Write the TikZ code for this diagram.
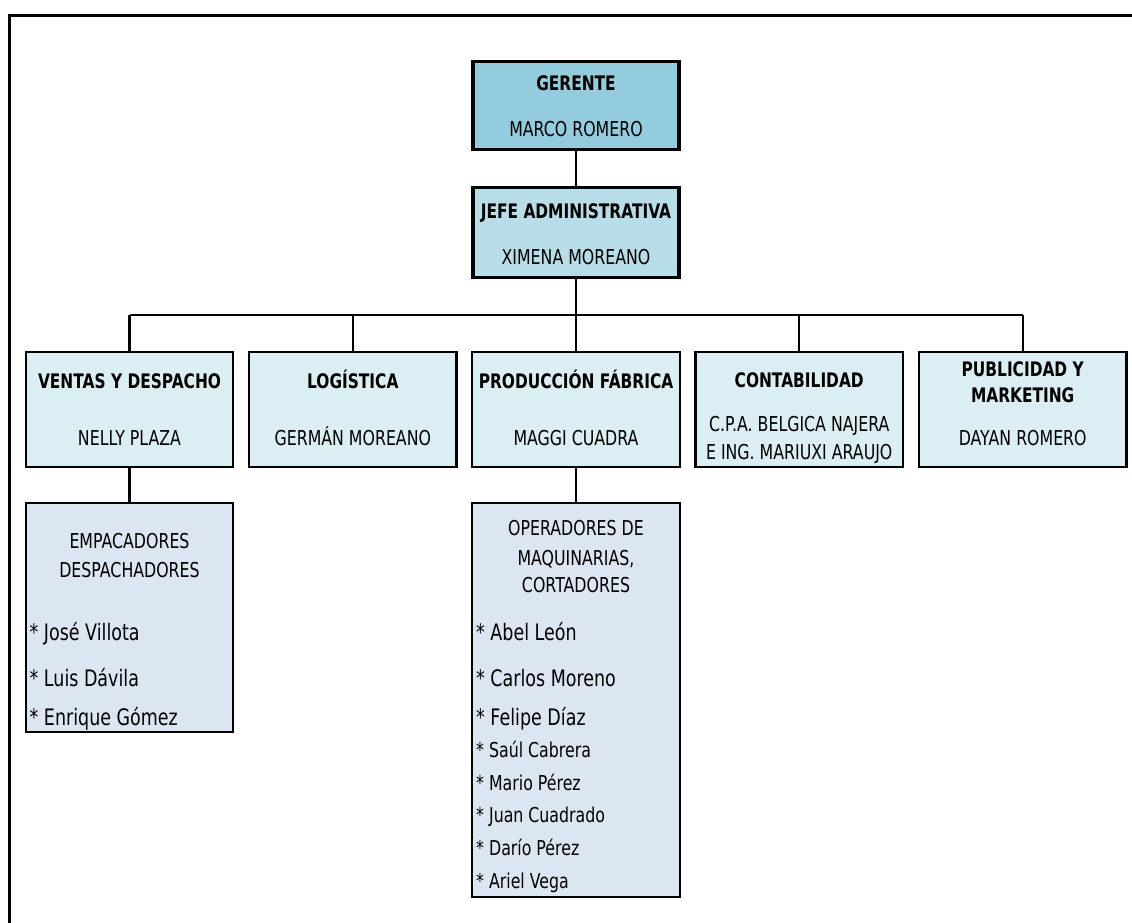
\documentclass[tikz,border=0pt]{standalone}
\usepackage{fontspec}
\setmainfont[FakeStretch=0.77]{DejaVu Sans}
\definecolor{cTop}{HTML}{93CDDD}
\definecolor{cJefe}{HTML}{B7DEE8}
\definecolor{cDept}{HTML}{DAEEF3}
\definecolor{cStaff}{HTML}{DCE6F2}
\begin{document}
\begin{tikzpicture}[x=1pt,y=-1pt,
  boxbase/.style={draw=black, rectangle, inner sep=0pt, outer sep=0pt},
  topbox/.style={boxbase, line width=3.2pt, minimum width=206pt},
  deptbox/.style={boxbase, fill=cDept, line width=2.2pt, minimum width=207.5pt, minimum height=115pt},
  staffbox/.style={boxbase, fill=cStaff, line width=2.2pt, minimum width=207.5pt},
  conn/.style={draw=black, line width=2.3pt},
  hd/.style={inner sep=0pt, anchor=base, font=\fontsize{20}{24}\selectfont\bfseries},
  nm/.style={inner sep=0pt, anchor=base, font=\fontsize{20.5}{24}\selectfont},
  big/.style={inner sep=0pt, anchor=base west, font=\fontsize{22.7}{26}\selectfont},
  small/.style={inner sep=0pt, anchor=base west, font=\fontsize{20.5}{24}\selectfont}]
\useasboundingbox (0,0) rectangle (1132,923);
\fill[white] (0,0) rectangle (1132,923);
% outer frame
\draw[line width=3pt] (9,925) -- (9,15.5) -- (1134,15.5);

% top boxes
\node[topbox, fill=cTop, minimum height=87.6pt] (ger) at (576,105.5) {};
\node[topbox, fill=cJefe, minimum height=90pt] (jefe) at (576,232.3) {};

% department boxes
\node[deptbox] (ven) at (129.5,409.5) {};
\node[deptbox] (log) at (352.8,409.5) {};
\node[deptbox] (pro) at (576,409.5) {};
\node[deptbox] (con) at (799.2,409.5) {};
\node[deptbox] (pub) at (1022.7,409.5) {};

% staff boxes
\node[staffbox, minimum height=229pt] (emp) at (129.5,617.5) {};
\node[staffbox, minimum height=393.4pt] (ope) at (576,700) {};

% connectors
\coordinate (bus) at (0,315);
\draw[conn] (ger.south) -- (jefe.north);
\draw[conn] (jefe.south) -- (jefe.south |- bus);
\draw[conn] (ven.north |- bus) -- (pub.north |- bus);
\draw[conn] (ven.north) -- (ven.north |- bus);
\draw[conn] (log.north) -- (log.north |- bus);
\draw[conn] (pro.north) -- (pro.north |- bus);
\draw[conn] (con.north) -- (con.north |- bus);
\draw[conn] (pub.north) -- (pub.north |- bus);
\draw[conn] (ven.south) -- (emp.north);
\draw[conn] (pro.south) -- (ope.north);

% texts top
\node[hd] (tger) at (576,90.5) {GERENTE};
\node[nm] (tmarco) at (576,137) {MARCO ROMERO};
\node[hd] (tjefe) at (576,218.3) {JEFE ADMINISTRATIVA};
\node[nm] (txim) at (576,264) {XIMENA MOREANO};

% texts departments
\node[hd] (tven) at (129.5,388.3) {VENTAS Y DESPACHO};
\node[nm] (tnel) at (129.5,445.7) {NELLY PLAZA};
\node[hd] (tlog) at (352.8,388.3) {LOGÍSTICA};
\node[nm] (tger2) at (352.8,445.7) {GERMÁN MOREANO};
\node[hd] (tpro) at (576,388.3) {PRODUCCIÓN FÁBRICA};
\node[nm] (tmag) at (576,445.7) {MAGGI CUADRA};
\node[hd] (tcon) at (799.2,387.3) {CONTABILIDAD};
\node[nm] (tcpa) at (799.2,431.7) {C.P.A. BELGICA NAJERA};
\node[nm] (ting) at (799.2,459.3) {E ING. MARIUXI ARAUJO};
\node[hd] (tpub1) at (1022.7,376) {PUBLICIDAD Y};
\node[hd] (tpub2) at (1022.7,402.3) {MARKETING};
\node[nm] (tday) at (1022.7,445) {DAYAN ROMERO};

% staff: ventas
\node[nm] (temp1) at (129.5,548.3) {EMPACADORES};
\node[nm] (temp2) at (129.5,577.3) {DESPACHADORES};
\node[big] (n1) at (29.5,640.7) {* José Villota};
\node[big] (n2) at (29.5,686) {* Luis Dávila};
\node[big] (n3) at (29.5,725.5) {* Enrique Gómez};

% staff: produccion
\node[nm] (top1) at (576,535) {OPERADORES DE};
\node[nm] (top2) at (576,565) {MAQUINARIAS,};
\node[nm] (top3) at (576,592.7) {CORTADORES};
\node[big] (p1) at (476,640.7) {* Abel León};
\node[big] (p2) at (476,686) {* Carlos Moreno};
\node[big] (p3) at (476,725) {* Felipe Díaz};
\node[small] (p4) at (476,757.3) {* Saúl Cabrera};
\node[small] (p5) at (476,790) {* Mario Pérez};
\node[small] (p6) at (476,822.7) {* Juan Cuadrado};
\node[small] (p7) at (476,855) {* Darío Pérez};
\node[small] (p8) at (476,888.3) {* Ariel Vega};
\end{tikzpicture}
\end{document}
